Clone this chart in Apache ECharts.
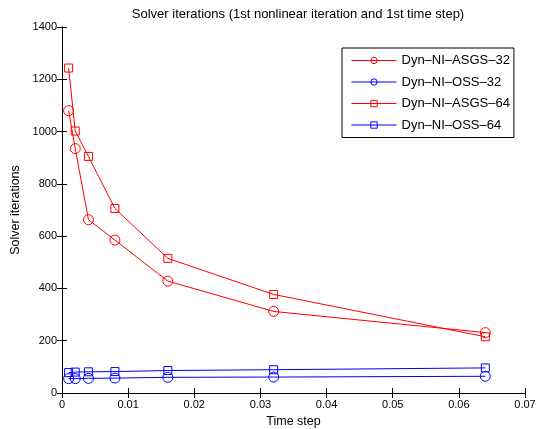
<!DOCTYPE html>
<html>
<head>
<meta charset="utf-8">
<script src="https://cdn.jsdelivr.net/npm/echarts@6/dist/echarts.min.js"></script>
<style>html,body{margin:0;padding:0;background:#fff;}#c{width:537px;height:429px;}</style>
</head>
<body>
<div id="c"></div>
<script>
const timeSteps = [0.001, 0.002, 0.004, 0.008, 0.016, 0.032, 0.064];
const asgs32 = [1080, 935, 663, 585, 428, 312, 231];
const oss32 = [55, 55, 56, 57, 60, 61, 64];
const asgs64 = [1243, 1002, 905, 706, 515, 377, 215];
const oss64 = [78, 80, 81, 82, 86, 89, 96];
const seriesNames = ['Dyn–NI–ASGS–32', 'Dyn–NI–OSS–32', 'Dyn–NI–ASGS–64', 'Dyn–NI–OSS–64'];

const font = 'Liberation Sans, Arial, Helvetica, sans-serif';
function pairs(vals){ return timeSteps.map((t,i)=>[t, vals[i]]); }
function mk(name, vals, color, symbol, size){
  return {
    name: name, type: 'line', data: pairs(vals),
    symbol: symbol, symbolSize: size,
    lineStyle: {color: color, width: 1},
    itemStyle: {color: 'rgba(255,255,255,0)', borderColor: color, borderWidth: 1},
    emphasis: {disabled: true},
    animation: false
  };
}
const chart = echarts.init(document.getElementById('c'), null, {renderer: 'canvas'});
const axisLine = {show: true, lineStyle: {color: '#000', width: 1}};
const tick = {show: true, inside: true, length: 5, lineStyle: {color: '#000'}};
chart.setOption({
  backgroundColor: '#fff',
  animation: false,
  title: {
    text: 'Solver iterations (1st nonlinear iteration and 1st time step)',
    left: 293, top: 3, textAlign: 'center',
    textStyle: {fontFamily: font, fontSize: 13, fontWeight: 'normal', color: '#000'}
  },
  grid: {left: 62, right: 12, top: 27, bottom: 36, containLabel: false, outerBoundsMode: 'none'},
  legend: {
    orient: 'vertical', left: 342, top: 48,
    backgroundColor: '#fff', borderColor: '#000', borderWidth: 1,
    padding: [6, 4, 6, 9],
    itemWidth: 45, itemHeight: 8, itemGap: 8.5,
    lineStyle: {width: 1},
    itemStyle: {borderWidth: 1},
    textStyle: {fontFamily: font, fontSize: 13, color: '#000'},
    data: seriesNames
  },
  xAxis: [{
    type: 'value', min: 0, max: 0.07, interval: 0.01,
    name: 'Time step', nameLocation: 'middle', nameGap: 21,
    nameTextStyle: {fontFamily: font, fontSize: 12.5, color: '#000'},
    axisLine: axisLine, axisTick: tick, splitLine: {show: false},
    axisLabel: {fontFamily: font, fontSize: 11, color: '#000', margin: 6,
      formatter: v => v === 0 ? '0' : String(+v.toFixed(2))}
  }, {
    type: 'value', position: 'top', min: 0, max: 0.07, interval: 0.01,
    axisLine: axisLine, axisTick: tick, splitLine: {show: false}, axisLabel: {show: false}
  }],
  yAxis: [{
    type: 'value', min: 0, max: 1400, interval: 200,
    name: 'Solver iterations', nameLocation: 'middle', nameGap: 40,
    nameTextStyle: {fontFamily: font, fontSize: 12.5, color: '#000'},
    axisLine: axisLine, axisTick: tick, splitLine: {show: false},
    axisLabel: {fontFamily: font, fontSize: 11, color: '#000', margin: 5,
      formatter: v => String(v)}
  }, {
    type: 'value', position: 'right', min: 0, max: 1400, interval: 200,
    axisLine: axisLine, axisTick: tick, splitLine: {show: false}, axisLabel: {show: false}
  }],
  series: [
    mk(seriesNames[0], asgs32, '#ff0000', 'circle', 10),
    mk(seriesNames[1], oss32, '#0000ff', 'circle', 10),
    mk(seriesNames[2], asgs64, '#ff0000', 'rect', 8),
    mk(seriesNames[3], oss64, '#0000ff', 'rect', 8)
  ]
});
</script>
</body>
</html>
